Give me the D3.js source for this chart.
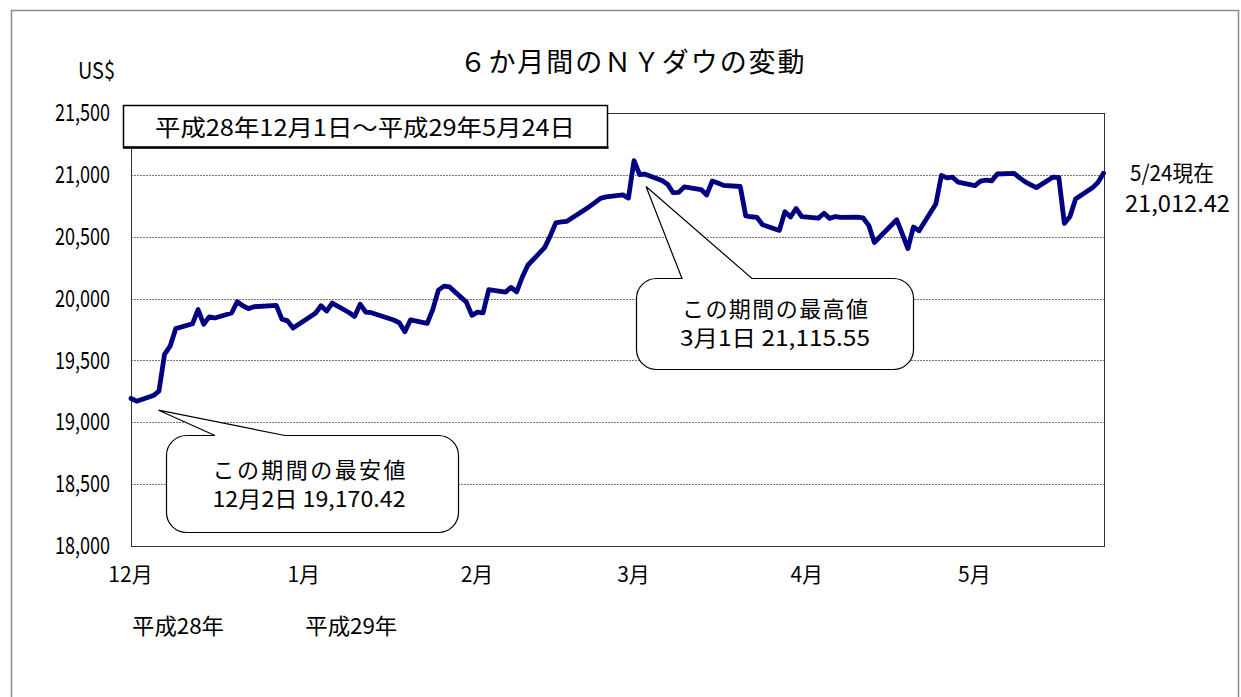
<!DOCTYPE html>
<html><head><meta charset="utf-8">
<script src="https://cdn.jsdelivr.net/npm/d3@7"></script>
<style>
html,body{margin:0;padding:0;background:#fff;}
text{font-family:"Noto Sans CJK JP","Noto Sans",sans-serif;fill:#000;}
</style></head>
<body>
<svg id="c" width="1241" height="697"></svg>
<script>
const dates = ["2016-12-01","2016-12-02","2016-12-05","2016-12-06","2016-12-07","2016-12-08","2016-12-09","2016-12-12","2016-12-13","2016-12-14","2016-12-15","2016-12-16","2016-12-19","2016-12-20","2016-12-21","2016-12-22","2016-12-23","2016-12-27","2016-12-28","2016-12-29","2016-12-30",
"2017-01-03","2017-01-04","2017-01-05","2017-01-06","2017-01-09","2017-01-10","2017-01-11","2017-01-12","2017-01-13","2017-01-17","2017-01-18","2017-01-19","2017-01-20","2017-01-23","2017-01-24","2017-01-25","2017-01-26","2017-01-27","2017-01-30","2017-01-31",
"2017-02-01","2017-02-02","2017-02-03","2017-02-06","2017-02-07","2017-02-08","2017-02-09","2017-02-10","2017-02-13","2017-02-14","2017-02-15","2017-02-16","2017-02-17","2017-02-21","2017-02-22","2017-02-23","2017-02-24","2017-02-27","2017-02-28",
"2017-03-01","2017-03-02","2017-03-03","2017-03-06","2017-03-07","2017-03-08","2017-03-09","2017-03-10","2017-03-13","2017-03-14","2017-03-15","2017-03-16","2017-03-17","2017-03-20","2017-03-21","2017-03-22","2017-03-23","2017-03-24","2017-03-27","2017-03-28","2017-03-29","2017-03-30","2017-03-31",
"2017-04-03","2017-04-04","2017-04-05","2017-04-06","2017-04-07","2017-04-10","2017-04-11","2017-04-12","2017-04-13","2017-04-17","2017-04-18","2017-04-19","2017-04-20","2017-04-21","2017-04-24","2017-04-25","2017-04-26","2017-04-27","2017-04-28",
"2017-05-01","2017-05-02","2017-05-03","2017-05-04","2017-05-05","2017-05-08","2017-05-09","2017-05-10","2017-05-11","2017-05-12","2017-05-15","2017-05-16","2017-05-17","2017-05-18","2017-05-19","2017-05-22","2017-05-23","2017-05-24"];
const values = [19191.93,19170.42,19216.24,19251.78,19549.62,19614.81,19756.85,19796.43,19911.21,19792.53,19852.24,19843.41,19883.06,19974.62,19941.96,19918.88,19933.81,19945.04,19833.68,19819.78,19762.60,
19881.76,19942.16,19899.29,19963.80,19887.38,19855.53,19954.28,19891.00,19885.73,19826.77,19804.72,19732.40,19827.25,19799.85,19912.71,20068.51,20100.91,20093.78,19971.13,19864.09,
19890.94,19884.91,20071.46,20052.42,20090.29,20054.34,20172.40,20269.37,20412.16,20504.41,20611.86,20619.77,20624.05,20743.00,20775.60,20810.32,20821.76,20837.44,20812.24,
21115.55,21002.97,21005.71,20954.34,20924.76,20855.73,20858.19,20902.98,20881.48,20837.37,20950.10,20934.55,20914.62,20905.86,20668.01,20661.30,20656.58,20596.72,20550.98,20701.50,20659.32,20728.49,20663.22,
20650.21,20689.24,20648.15,20662.95,20656.10,20658.02,20651.30,20591.86,20453.25,20636.92,20523.28,20404.49,20578.71,20547.76,20763.89,20996.12,20975.09,20981.33,20940.51,
20913.46,20949.89,20957.90,20951.47,21006.94,21012.28,20975.78,20943.11,20919.42,20896.61,20981.94,20979.75,20606.93,20663.02,20804.84,20894.83,20937.91,21012.42];
const yTicks = [18000,18500,19000,19500,20000,20500,21000,21500];
const monthTicks = ["2016-12-01","2017-01-01","2017-02-01","2017-03-01","2017-04-01","2017-05-01"];
const title = "６か月間のＮＹダウの変動";
const yUnit = "US$";
const periodLabel = "平成28年12月1日～平成29年5月24日";
const eraLabels = [{d:"2016-12-01",t:"平成28年"},{d:"2017-01-01",t:"平成29年"}];
const lowNote = ["この期間の最安値","12月2日 19,170.42"];
const highNote = ["この期間の最高値","3月1日 21,115.55"];
const lastNote = ["5/24現在","21,012.42"];

const parse = d3.timeParse("%Y-%m-%d");
const data = dates.map((d,i)=>({date:parse(d), v:values[i]}));

const svg = d3.select("#c");
const L=131, R=1105, T=113, B=546;
const x = d3.scaleTime().domain([parse("2016-12-01"), parse("2017-05-24")]).range([L, 1103.5]);
const y = d3.scaleLinear().domain([18000,21500]).range([B,T]);

// outer frame
svg.append("rect").attr("x",11.5).attr("y",10.5).attr("width",1227).attr("height",700)
  .attr("fill","#fff").attr("stroke","#8a8a8a").attr("stroke-width",1.5);

// title
svg.append("text").attr("x",632).attr("y",72).attr("text-anchor","middle")
  .style("font-size","27px").attr("textLength",345).attr("lengthAdjust","spacing").text(title);
svg.append("text").attr("x",78).attr("y",79).style("font-size","23px")
  .attr("textLength",37).attr("lengthAdjust","spacingAndGlyphs").text(yUnit);

// grid
svg.append("g").selectAll("line").data(yTicks.filter(t=>t>18000 && t<21500)).join("line")
  .attr("x1",L).attr("x2",R).attr("y1",d=>Math.round(y(d))+0.5).attr("y2",d=>Math.round(y(d))+0.5)
  .attr("stroke","#777").attr("stroke-width",1).attr("stroke-dasharray","2,1");

// plot border
svg.append("rect").attr("x",L+0.5).attr("y",T+0.5).attr("width",R-L-1).attr("height",B-T)
  .attr("fill","none").attr("stroke","#333").attr("stroke-width",1);

// y axis
const yAxis = svg.append("g").attr("transform",`translate(${L},0)`)
  .call(d3.axisLeft(y).tickValues(yTicks).tickSize(0).tickPadding(21).tickFormat(d3.format(",")));
yAxis.select(".domain").remove();
yAxis.selectAll("text").style("font-size","24px").style("font-family",'"Noto Sans CJK JP",sans-serif')
  .attr("fill","#000").attr("textLength",55).attr("lengthAdjust","spacingAndGlyphs");

// x axis
const xAxis = svg.append("g").attr("transform",`translate(0,${B})`)
  .call(d3.axisBottom(x).tickValues(monthTicks.map(parse)).tickSize(0).tickPadding(21)
    .tickFormat(d=>(d.getMonth()+1)+"月"));
xAxis.select(".domain").remove();
xAxis.selectAll("text").style("font-size","21px").style("font-family",'"Noto Sans CJK JP",sans-serif')
  .attr("fill","#000").attr("dx",-1);

// era labels
svg.append("g").selectAll("text").data(eraLabels).join("text")
  .attr("x",d=>x(parse(d.d))+1).attr("y",634).style("font-size","22px")
  .attr("textLength",92).attr("lengthAdjust","spacingAndGlyphs").text(d=>d.t);

// line
svg.append("path").datum(data)
  .attr("d", d3.line().x(d=>x(d.date)).y(d=>y(d.v)))
  .attr("fill","none").attr("stroke","#000080").attr("stroke-width",4.8)
  .attr("stroke-linejoin","round").attr("stroke-linecap","round");

// period box
svg.append("rect").attr("x",123.5).attr("y",105.5).attr("width",484).attr("height",42)
  .attr("fill","#fff").attr("stroke","#000").attr("stroke-width",1.5);
svg.append("line").attr("x1",123).attr("x2",608.5).attr("y1",147.5).attr("y2",147.5)
  .attr("stroke","#000").attr("stroke-width",2.5);
svg.append("text").attr("x",365).attr("y",136).attr("text-anchor","middle")
  .style("font-size","23px").attr("textLength",420).attr("lengthAdjust","spacingAndGlyphs").text(periodLabel);

// callout helper
function callout(x0,y0,x1,y1,r,b1,b2,tip){
  const p = d3.path();
  p.moveTo(x0+r,y0);
  p.lineTo(b1,y0); p.lineTo(tip[0],tip[1]); p.lineTo(b2,y0);
  p.lineTo(x1-r,y0); p.arcTo(x1,y0,x1,y0+r,r);
  p.lineTo(x1,y1-r); p.arcTo(x1,y1,x1-r,y1,r);
  p.lineTo(x0+r,y1); p.arcTo(x0,y1,x0,y1-r,r);
  p.lineTo(x0,y0+r); p.arcTo(x0,y0,x0+r,y0,r);
  p.closePath();
  return p.toString();
}
const dLow = data[1], dHigh = data[60];
svg.append("path").attr("d",callout(166.5,435.5,458.5,532.5,20,215,285,[x(dLow.date)+22,y(dLow.v)+9]))
  .attr("fill","#fff").attr("stroke","#000").attr("stroke-width",1.2);
svg.append("path").attr("d",callout(636.5,278.5,913.5,369.5,20,682,752,[x(dHigh.date)+12,y(dHigh.v)+26]))
  .attr("fill","#fff").attr("stroke","#000").attr("stroke-width",1.2);

svg.append("text").attr("x",309).attr("y",478).attr("text-anchor","middle").style("font-size","22px")
  .attr("textLength",193).attr("lengthAdjust","spacing").text(lowNote[0]);
svg.append("text").attr("x",309).attr("y",507).attr("text-anchor","middle").style("font-size","22px")
  .attr("textLength",193).attr("lengthAdjust","spacingAndGlyphs").text(lowNote[1]);
svg.append("text").attr("x",775).attr("y",317).attr("text-anchor","middle").style("font-size","22px")
  .attr("textLength",186).attr("lengthAdjust","spacing").text(highNote[0]);
svg.append("text").attr("x",775).attr("y",346).attr("text-anchor","middle").style("font-size","22px")
  .attr("textLength",190).attr("lengthAdjust","spacingAndGlyphs").text(highNote[1]);

// last value note
svg.append("text").attr("x",1130).attr("y",181).style("font-size","22px")
  .attr("textLength",84).attr("lengthAdjust","spacingAndGlyphs").text(lastNote[0]);
svg.append("text").attr("x",1125).attr("y",212).style("font-size","23px")
  .attr("textLength",105).attr("lengthAdjust","spacingAndGlyphs").text(lastNote[1]);
</script>
</body></html>
